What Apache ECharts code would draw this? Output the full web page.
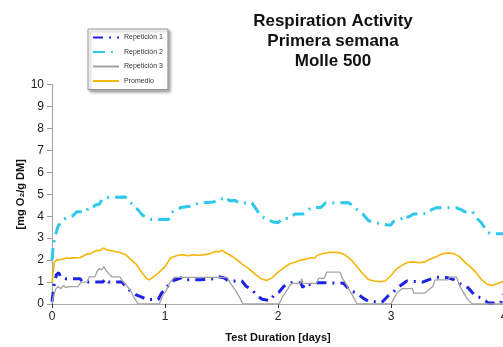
<!DOCTYPE html>
<html>
<head>
<meta charset="utf-8">
<script src="https://cdn.jsdelivr.net/npm/echarts@6/dist/echarts.min.js"></script>
<style>
  html, body { margin: 0; padding: 0; background: #ffffff; }
  #chart { width: 503px; height: 347px; }
</style>
</head>
<body>
<div id="chart"></div>
<script>
// Respiration activity, first week, Molle 500 — [day, mg O2 / g DM]
const seriesNames = ['Repetición 1', 'Repetición 2', 'Repetición 3', 'Promedio'];

const rep1 = [[0,0.1],[0.02,0.9],[0.04,1.35],[0.06,1.42],[0.08,1.2],[0.12,1.15],[0.25,1.15],[0.27,1.0],[0.45,1.0],[0.47,1.15],[0.5,1.0],[0.62,1.0],[0.66,0.75],[0.7,0.56],[0.75,0.4],[0.8,0.3],[0.84,0.2],[0.94,0.2],[0.97,0.5],[1.01,0.72],[1.06,1.05],[1.12,1.15],[1.15,1.2],[1.18,1.1],[1.3,1.1],[1.43,1.15],[1.47,1.25],[1.52,1.2],[1.56,1.05],[1.68,1.05],[1.72,0.8],[1.77,0.65],[1.81,0.4],[1.86,0.22],[1.93,0.15],[1.97,0.45],[2.01,0.55],[2.05,0.8],[2.12,0.97],[2.2,0.97],[2.22,0.75],[2.24,0.95],[2.27,0.88],[2.36,0.97],[2.58,0.95],[2.64,0.6],[2.7,0.5],[2.75,0.28],[2.8,0.12],[2.92,0.08],[2.98,0.4],[3.03,0.6],[3.06,0.75],[3.14,1.05],[3.28,1.0],[3.33,1.1],[3.4,1.22],[3.5,1.2],[3.56,1.1],[3.63,0.85],[3.68,0.75],[3.75,0.35],[3.8,0.28],[3.86,0.05],[3.97,0.05],[4.0,0.45]];

const rep2 = [[0,2.0],[0.01,2.6],[0.03,3.1],[0.05,3.5],[0.08,3.75],[0.1,3.85],[0.14,3.95],[0.18,4.0],[0.22,4.2],[0.3,4.2],[0.32,4.36],[0.36,4.36],[0.38,4.5],[0.42,4.55],[0.44,4.75],[0.5,4.85],[0.65,4.88],[0.68,4.7],[0.72,4.5],[0.76,4.3],[0.8,4.05],[0.85,3.9],[0.88,3.85],[1.03,3.85],[1.07,4.2],[1.12,4.3],[1.14,4.4],[1.22,4.45],[1.25,4.5],[1.3,4.6],[1.43,4.65],[1.48,4.8],[1.53,4.78],[1.55,4.85],[1.57,4.7],[1.62,4.72],[1.66,4.6],[1.77,4.6],[1.81,4.3],[1.85,4.0],[1.9,3.85],[1.95,3.75],[2.0,3.7],[2.04,3.9],[2.1,3.9],[2.15,4.1],[2.22,4.1],[2.27,4.3],[2.3,4.4],[2.38,4.4],[2.42,4.6],[2.62,4.62],[2.66,4.5],[2.7,4.3],[2.75,4.1],[2.8,3.8],[2.86,3.7],[2.92,3.65],[2.97,3.6],[3.0,3.6],[3.02,3.75],[3.07,3.85],[3.1,3.9],[3.13,4.05],[3.15,3.95],[3.2,4.1],[3.32,4.12],[3.36,4.3],[3.4,4.38],[3.58,4.38],[3.62,4.3],[3.65,4.2],[3.72,4.2],[3.76,3.9],[3.8,3.7],[3.85,3.3],[3.88,3.2],[4.0,3.2]];

const rep3 = [[0,0],[0.01,0.3],[0.03,0.64],[0.05,0.79],[0.08,0.7],[0.1,0.85],[0.12,0.75],[0.15,0.79],[0.23,0.79],[0.25,0.95],[0.28,1.0],[0.31,1.0],[0.33,1.24],[0.38,1.24],[0.4,1.5],[0.42,1.62],[0.43,1.7],[0.44,1.55],[0.46,1.7],[0.48,1.5],[0.5,1.4],[0.53,1.24],[0.6,1.24],[0.63,1.0],[0.66,0.85],[0.69,0.65],[0.72,0.35],[0.75,0.1],[0.76,0],[0.95,0],[0.98,0.4],[1.01,0.6],[1.04,0.94],[1.08,1.21],[1.55,1.21],[1.58,0.94],[1.62,0.64],[1.66,0.3],[1.69,0],[2.01,0],[2.04,0.33],[2.08,0.64],[2.12,0.94],[2.2,0.94],[2.21,1.15],[2.22,0.94],[2.34,0.94],[2.36,1.17],[2.41,1.17],[2.43,1.45],[2.55,1.45],[2.57,1.17],[2.6,0.94],[2.63,0.64],[2.67,0.3],[2.7,0],[3.0,0],[3.03,0.3],[3.06,0.55],[3.1,0.7],[3.19,0.7],[3.2,0.5],[3.3,0.5],[3.33,0.64],[3.37,0.8],[3.39,1.1],[3.5,1.1],[3.52,1.22],[3.58,1.22],[3.61,0.8],[3.65,0.45],[3.68,0.2],[3.72,0],[4.0,0]];

const promedio = [[0,1.0],[0.02,1.9],[0.04,2.0],[0.1,2.05],[0.13,2.1],[0.15,2.08],[0.2,2.1],[0.25,2.12],[0.28,2.2],[0.32,2.3],[0.34,2.28],[0.36,2.35],[0.4,2.45],[0.42,2.42],[0.44,2.5],[0.46,2.55],[0.48,2.47],[0.5,2.45],[0.55,2.4],[0.6,2.35],[0.65,2.25],[0.7,2.02],[0.75,1.78],[0.8,1.4],[0.84,1.15],[0.86,1.1],[0.9,1.25],[0.95,1.45],[1.0,1.7],[1.05,2.1],[1.1,2.2],[1.15,2.25],[1.2,2.2],[1.25,2.24],[1.3,2.22],[1.35,2.25],[1.4,2.3],[1.45,2.4],[1.48,2.37],[1.5,2.45],[1.55,2.3],[1.6,2.15],[1.65,1.95],[1.7,1.75],[1.75,1.58],[1.8,1.35],[1.85,1.15],[1.9,1.07],[1.95,1.2],[2.0,1.45],[2.05,1.65],[2.1,1.82],[2.15,1.9],[2.2,2.0],[2.25,2.05],[2.3,2.12],[2.32,2.08],[2.35,2.22],[2.4,2.3],[2.45,2.35],[2.5,2.36],[2.55,2.33],[2.6,2.22],[2.65,2.0],[2.7,1.7],[2.75,1.38],[2.8,1.12],[2.85,1.05],[2.9,1.02],[2.95,1.05],[3.0,1.3],[3.05,1.6],[3.1,1.77],[3.15,1.9],[3.2,1.92],[3.25,1.88],[3.3,1.92],[3.35,2.05],[3.4,2.15],[3.45,2.28],[3.5,2.33],[3.55,2.3],[3.6,2.18],[3.65,1.92],[3.7,1.7],[3.75,1.45],[3.8,1.12],[3.85,0.9],[3.9,0.85],[3.95,0.95],[4.0,1.05]];

const xTicks = [0, 1, 2, 3, 4];
const yTicks = [0, 1, 2, 3, 4, 5, 6, 7, 8, 9, 10];

const chart = echarts.init(document.getElementById('chart'), null, { renderer: 'canvas' });
const font = 'Liberation Sans, Arial, sans-serif';

function lineSeries(name, data, color, width, dash) {
  return {
    name: name,
    type: 'line',
    data: data,
    symbol: 'none',
    smooth: false,
    animation: false,
    lineStyle: { color: color, width: width, type: dash },
    itemStyle: { color: color }
  };
}

chart.setOption({
  backgroundColor: '#ffffff',
  textStyle: { fontFamily: font },
  title: {
    text: 'Respiration Activity\nPrimera semana\nMolle 500',
    left: 328,
    top: 6,
    textAlign: 'center',
    textStyle: { fontSize: 17, fontWeight: 'bold', color: '#111', lineHeight: 20, fontFamily: font }
  },
  legend: {
    data: seriesNames,
    orient: 'vertical',
    left: 88,
    top: 29,
    padding: [5, 5, 5, 4],
    itemWidth: 26,
    itemHeight: 6,
    itemGap: 7.5,
    backgroundColor: '#ffffff',
    borderColor: '#999',
    borderWidth: 1,
    shadowColor: 'rgba(0,0,0,0.35)',
    shadowBlur: 3,
    shadowOffsetX: 2,
    shadowOffsetY: 2,
    itemStyle: { color: 'rgba(0,0,0,0)', borderWidth: 0 },
    textStyle: { fontSize: 7, color: '#333', fontFamily: font }
  },
  grid: { left: 52, right: -1, top: 84.5, bottom: 43, containLabel: false, outerBoundsMode: 'none' },
  xAxis: {
    type: 'value',
    min: xTicks[0],
    max: xTicks[xTicks.length - 1],
    interval: 1,
    name: 'Test Duration [days]',
    nameLocation: 'middle',
    nameGap: 28,
    nameTextStyle: { fontSize: 11, fontWeight: 'bold', color: '#111' },
    axisLine: { lineStyle: { color: '#aaa', width: 1.2 } },
    axisTick: { show: true, length: 4, lineStyle: { color: '#333' } },
    axisLabel: { fontSize: 12, color: '#222', margin: 7, showMaxLabel: true, hideOverlap: false },
    splitLine: { show: false }
  },
  yAxis: {
    type: 'value',
    min: yTicks[0],
    max: yTicks[yTicks.length - 1],
    interval: 1,
    name: '[mg O₂/g DM]',
    nameLocation: 'middle',
    nameGap: 26,
    nameMoveOverlap: false,
    nameRotate: 90,
    nameTextStyle: { fontSize: 11, fontWeight: 'bold', color: '#111' },
    axisLine: { show: true, lineStyle: { color: '#aaa', width: 1.2 } },
    axisTick: { show: true, length: 5, lineStyle: { color: '#999' } },
    axisLabel: { fontSize: 12, color: '#222', margin: 8 },
    splitLine: { show: false }
  },
  series: [
    lineSeries(seriesNames[0], rep1, '#1c22e6', 3, [10, 6, 2, 6]),
    lineSeries(seriesNames[1], rep2, '#2ec8ec', 3, [12, 6, 2, 6]),
    lineSeries(seriesNames[2], rep3, '#a3a3a3', 1.3, 'solid'),
    lineSeries(seriesNames[3], promedio, '#f5b50a', 1.6, 'solid')
  ]
});
</script>
</body>
</html>
